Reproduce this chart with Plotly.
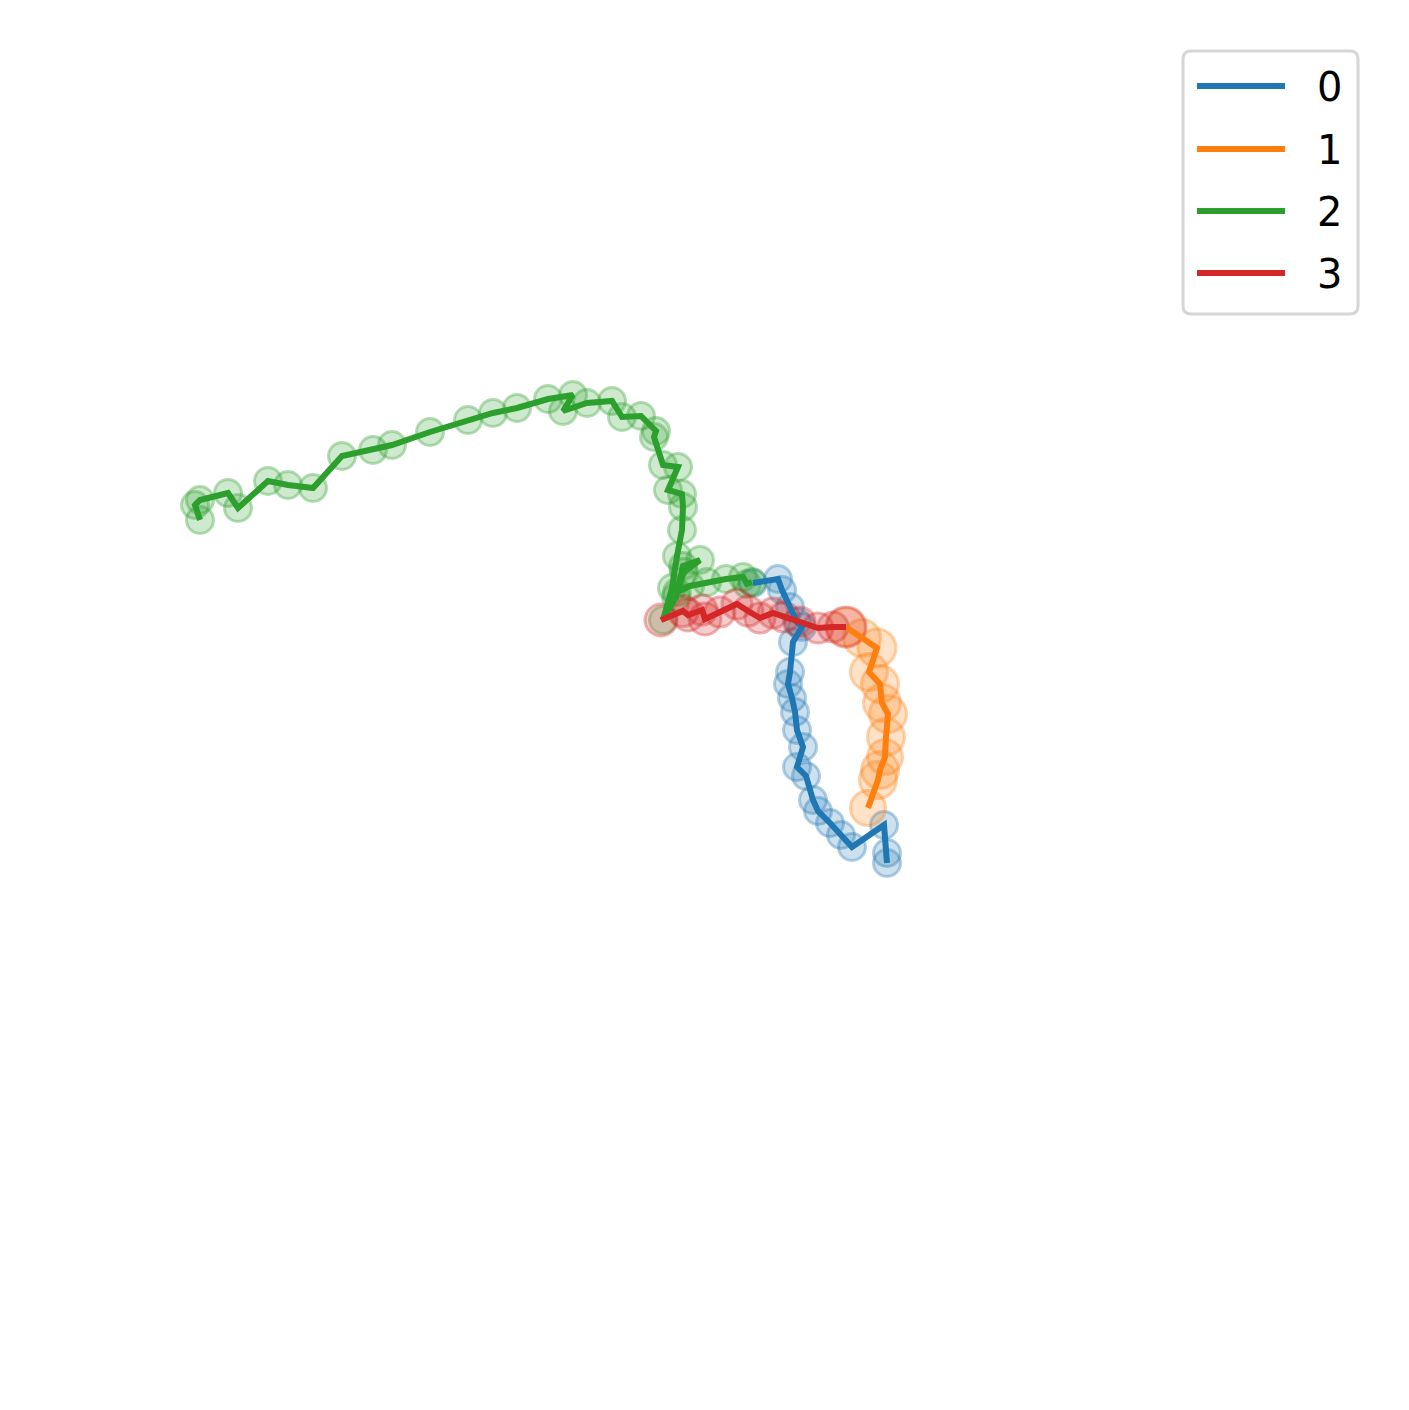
import plotly.graph_objects as go

# Trajectory coordinates (image units, y grows downward)
labels = ["0", "1", "2", "3"]
colors = ["#1f77b4", "#ff7f0e", "#2ca02c", "#d62728"]

x0 = [753, 778, 782, 790, 797, 802, 793, 790, 788, 792, 795, 797, 803, 797, 806, 813, 818, 830, 841, 852, 884, 887, 887]
y0 = [583, 579, 590, 607, 622, 627, 642, 672, 684, 698, 712, 730, 747, 767, 776, 800, 811, 823, 835, 847, 825, 853, 863]
s0 = [27] * len(x0)

x1 = [846, 862, 877, 869, 880, 882, 888, 886, 885, 880, 878, 868]
y1 = [627, 638, 648, 672, 684, 703, 714, 737, 757, 770, 780, 808]
s1 = [38, 37, 38, 37, 37, 37, 37, 37, 35, 37, 37, 35]

x2 = [200, 195, 200, 228, 238, 268, 288, 313, 342, 373, 392, 430, 468, 493, 517, 548, 573, 563, 587,
      612, 622, 641, 656, 654, 663, 678, 668, 682, 683, 682, 677, 672, 663, 676, 683, 700, 684, 677,
      690, 707, 726, 743, 747, 752]
y2 = [520, 505, 500, 493, 508, 481, 485, 488, 456, 450, 445, 432, 420, 413, 408, 399, 395, 411, 403,
      401, 417, 416, 431, 437, 465, 467, 490, 494, 507, 530, 556, 588, 620, 597, 566, 560, 572, 592,
      586, 582, 579, 577, 584, 582]
s2 = [27] * len(x2)

x3 = [661, 683, 688, 702, 705, 720, 737, 748, 760, 773, 784, 800, 818, 833, 846]
y3 = [620, 611, 615, 610, 619, 612, 604, 611, 618, 613, 617, 622, 628, 627, 627]
s3 = [32, 31, 32, 30, 32, 30, 30, 30, 30, 30, 30, 30, 30, 30, 40]

xs = [x0, x1, x2, x3]
ys = [y0, y1, y2, y3]
ss = [s0, s1, s2, s3]


def rgba(h, a):
    h = h.lstrip("#")
    return "rgba(%d,%d,%d,%s)" % (int(h[0:2], 16), int(h[2:4], 16), int(h[4:6], 16), a)


fig = go.Figure()

# translucent circles first
for x, y, s, c in zip(xs, ys, ss, colors):
    fig.add_trace(go.Scatter(
        x=x, y=y, mode="markers", showlegend=False, hoverinfo="skip",
        marker=dict(size=s, color=rgba(c, 0.32), line=dict(color=rgba(c, 0.5), width=3)),
    ))

# trajectory lines on top
for x, y, c, lab in zip(xs, ys, colors, labels):
    fig.add_trace(go.Scatter(
        x=x, y=y, mode="lines", name=lab, showlegend=False,
        line=dict(color=c, width=6),
    ))

# manual legend (matplotlib style)
bx0, bx1, by0, by1, r = 1183, 1358, 51, 314, 8
path = (f"M{bx0 + r},{by0} H{bx1 - r} Q{bx1},{by0} {bx1},{by0 + r} V{by1 - r} "
        f"Q{bx1},{by1} {bx1 - r},{by1} H{bx0 + r} Q{bx0},{by1} {bx0},{by1 - r} "
        f"V{by0 + r} Q{bx0},{by0} {bx0 + r},{by0} Z")
shapes = [dict(type="path", path=path, xref="x", yref="y",
               line=dict(color="#d6d6d6", width=3), fillcolor="rgba(255,255,255,0.8)", layer="above")]
annotations = []
legend_y = [86, 149, 211, 273]
for ly, c, lab in zip(legend_y, colors, labels):
    shapes.append(dict(type="line", xref="x", yref="y", x0=1197, x1=1285, y0=ly, y1=ly,
                       line=dict(color=c, width=6), layer="above"))
    annotations.append(dict(x=1329, y=ly + 1, xref="x", yref="y", text=lab, showarrow=False,
                            font=dict(size=40, color="black", family="DejaVu Sans"),
                            xanchor="center", yanchor="middle"))

fig.update_layout(
    width=1409, height=1410,
    margin=dict(l=0, r=0, t=0, b=0),
    paper_bgcolor="white", plot_bgcolor="white",
    xaxis=dict(range=[0, 1409], visible=False, fixedrange=True),
    yaxis=dict(range=[1410, 0], visible=False, fixedrange=True),
    shapes=shapes, annotations=annotations,
    showlegend=False,
)

fig.write_html("out.html")
